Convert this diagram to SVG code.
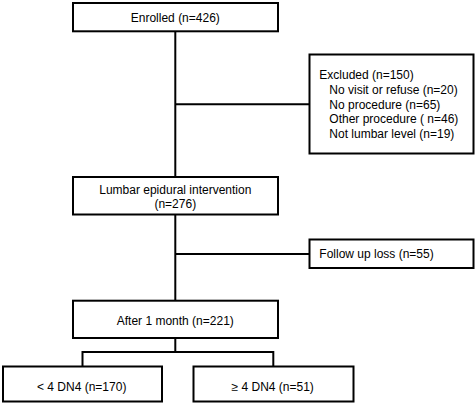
<svg xmlns="http://www.w3.org/2000/svg" width="475" height="404" viewBox="0 0 475 404">
<style>
rect{fill:#fff;stroke:#000;stroke-width:2}
line{stroke:#000;stroke-width:2}
text{font-family:"Liberation Sans",Arial,sans-serif;font-size:12px;fill:#000}
.c{text-anchor:middle}
</style>
<rect x="0" y="0" width="475" height="404" style="stroke:none"/>
<g id="connectors">
<line x1="175.3" y1="31" x2="175.3" y2="177"/>
<line x1="175.3" y1="104.3" x2="309.5" y2="104.3"/>
<line x1="175.3" y1="214.5" x2="175.3" y2="300.7"/>
<line x1="175.3" y1="254" x2="309.5" y2="254"/>
<line x1="175.3" y1="338" x2="175.3" y2="352"/>
<line x1="82.5" y1="352" x2="273.3" y2="352"/>
<line x1="82.5" y1="351" x2="82.5" y2="366.5"/>
<line x1="273.3" y1="351" x2="273.3" y2="366.5"/>
</g>
<g id="enrolled">
<rect x="73" y="3" width="205" height="28.3"/>
<text class="c" x="175.3" y="21.5">Enrolled (n=426)</text>
</g>
<g id="excluded">
<rect x="309.5" y="54.5" width="164" height="99"/>
<text x="319.3" y="79.3">Excluded (n=150)</text>
<text x="329.3" y="94">No visit or refuse (n=20)</text>
<text x="329.3" y="108.7">No procedure (n=65)</text>
<text x="329.3" y="123.4">Other procedure ( n=46)</text>
<text x="329.3" y="138">Not lumbar level (n=19)</text>
</g>
<g id="lumbar">
<rect x="73" y="177" width="205" height="37.5"/>
<text class="c" x="175.3" y="193.5">Lumbar epidural intervention</text>
<text class="c" x="175.3" y="208">(n=276)</text>
</g>
<g id="followup">
<rect x="309.5" y="239.5" width="164" height="28.5"/>
<text x="319.3" y="258.3">Follow up loss (n=55)</text>
</g>
<g id="month">
<rect x="73" y="300.7" width="205" height="37.3"/>
<text class="c" x="175.3" y="325">After 1 month (n=221)</text>
</g>
<g id="low">
<rect x="3" y="366.5" width="159" height="35"/>
<text class="c" x="81.7" y="390.7">&lt; 4 DN4 (n=170)</text>
</g>
<g id="high">
<rect x="193.5" y="366.5" width="160" height="35"/>
<text class="c" x="272.7" y="390.7">≥ 4 DN4 (n=51)</text>
</g>
</svg>
